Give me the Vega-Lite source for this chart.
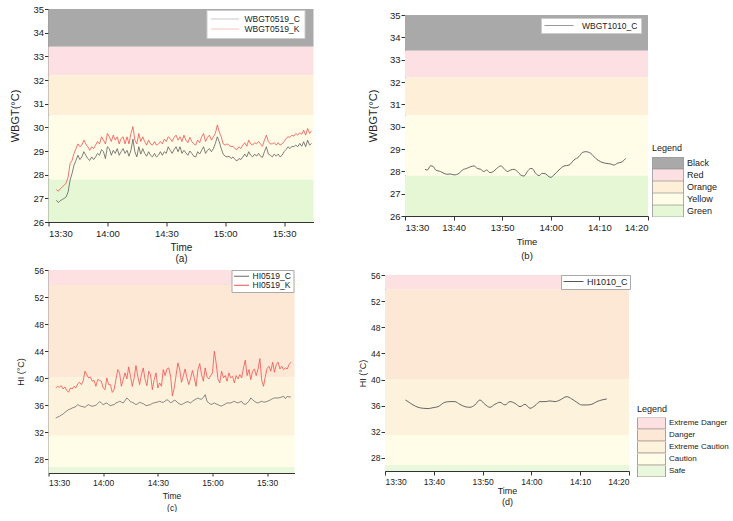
{
"padding": {"left": 9.5, "top": 4, "right": 0, "bottom": 0},
"config": {
  "font": "Liberation Sans",
  "view": {"stroke": null},
  "axis": {"grid": false, "domainColor": "#333", "tickColor": "#333", "labelColor": "#222", "titleColor": "#222", "titleFontWeight": "normal", "labelOverlap": false},
  "legend": {"titleFontWeight": "normal", "labelColor": "#222", "titleColor": "#222"}
},
"resolve": {"scale": {"fill": "independent", "stroke": "independent"}, "legend": {"fill": "independent", "stroke": "independent"}},
"spacing": 2,
"vconcat": [
 {
  "spacing": 53.5,
  "resolve": {"scale": {"fill": "independent", "stroke": "independent"}, "legend": {"fill": "independent", "stroke": "independent"}},
  "hconcat": [
   {
    "width": 265, "height": 213,
    "data": {"values": [
{"t":814,"C":26.92,"K":27.37},{"t":815,"C":26.82,"K":27.30},{"t":816,"C":26.90,"K":27.40},{"t":817,"C":26.95,"K":27.48},
{"t":818,"C":27.00,"K":27.55},{"t":819,"C":27.06,"K":27.65},{"t":820,"C":27.27,"K":27.90},{"t":821,"C":27.77,"K":28.47},
{"t":822,"C":28.05,"K":28.60},{"t":823,"C":28.40,"K":28.90},{"t":824,"C":28.60,"K":29.10},{"t":825,"C":28.82,"K":29.30},
{"t":826,"C":28.64,"K":29.18},{"t":827,"C":28.75,"K":29.25},{"t":828,"C":28.97,"K":29.46},{"t":829,"C":28.82,"K":29.30},
{"t":830,"C":28.68,"K":29.18},{"t":831,"C":28.60,"K":29.03},{"t":832,"C":28.75,"K":29.18},{"t":833,"C":28.64,"K":29.10},
{"t":834,"C":28.75,"K":29.25},{"t":835,"C":28.90,"K":29.40},{"t":836,"C":28.82,"K":29.30},{"t":837,"C":29.06,"K":29.60},
{"t":838,"C":28.97,"K":29.46},{"t":839,"C":28.68,"K":29.30},{"t":840,"C":29.18,"K":29.74},{"t":841,"C":29.10,"K":29.60},
{"t":842,"C":28.82,"K":29.40},{"t":843,"C":29.03,"K":29.67},{"t":844,"C":28.90,"K":29.46},{"t":845,"C":29.10,"K":29.60},
{"t":846,"C":28.82,"K":29.30},{"t":847,"C":28.97,"K":29.53},{"t":848,"C":29.10,"K":29.60},{"t":849,"C":28.90,"K":29.30},
{"t":850,"C":29.03,"K":29.60},{"t":851,"C":28.78,"K":29.30},{"t":852,"C":29.03,"K":29.74},{"t":853,"C":29.50,"K":30.03},
{"t":854,"C":28.97,"K":29.46},{"t":855,"C":28.75,"K":29.30},{"t":856,"C":29.18,"K":29.74},{"t":857,"C":28.87,"K":29.40},
{"t":858,"C":29.10,"K":29.60},{"t":859,"C":28.90,"K":29.40},{"t":860,"C":28.78,"K":29.25},{"t":861,"C":28.97,"K":29.46},
{"t":862,"C":28.82,"K":29.30},{"t":863,"C":28.75,"K":29.25},{"t":864,"C":28.90,"K":29.40},{"t":865,"C":28.75,"K":29.25},
{"t":866,"C":28.82,"K":29.30},{"t":867,"C":28.97,"K":29.40},{"t":868,"C":28.82,"K":29.30},{"t":869,"C":28.97,"K":29.50},
{"t":870,"C":28.90,"K":29.40},{"t":871,"C":29.18,"K":29.60},{"t":872,"C":29.03,"K":29.53},{"t":873,"C":28.90,"K":29.40},
{"t":874,"C":29.06,"K":29.58},{"t":875,"C":29.18,"K":29.67},{"t":876,"C":28.97,"K":29.46},{"t":877,"C":29.18,"K":29.60},
{"t":878,"C":28.90,"K":29.40},{"t":879,"C":29.03,"K":29.67},{"t":880,"C":28.92,"K":29.46},{"t":881,"C":28.82,"K":29.35},
{"t":882,"C":29.00,"K":29.58},{"t":883,"C":28.90,"K":29.40},{"t":884,"C":28.78,"K":29.30},{"t":885,"C":28.75,"K":29.25},
{"t":886,"C":28.97,"K":29.46},{"t":887,"C":28.87,"K":29.35},{"t":888,"C":29.03,"K":29.60},{"t":889,"C":29.18,"K":29.74},
{"t":890,"C":28.90,"K":29.40},{"t":891,"C":29.03,"K":29.58},{"t":892,"C":29.10,"K":29.67},{"t":893,"C":28.97,"K":29.46},
{"t":894,"C":29.10,"K":29.60},{"t":895,"C":29.32,"K":29.74},{"t":896,"C":29.60,"K":30.10},{"t":897,"C":29.39,"K":29.80},
{"t":898,"C":29.10,"K":29.60},{"t":899,"C":28.87,"K":29.30},{"t":900,"C":28.78,"K":29.25},{"t":901,"C":28.75,"K":29.30},
{"t":902,"C":28.78,"K":29.25},{"t":903,"C":28.68,"K":29.18},{"t":904,"C":28.75,"K":29.20},{"t":905,"C":28.64,"K":29.10},
{"t":906,"C":28.58,"K":29.06},{"t":907,"C":28.68,"K":29.18},{"t":908,"C":28.64,"K":29.10},{"t":909,"C":28.75,"K":29.25},
{"t":910,"C":28.87,"K":29.35},{"t":911,"C":28.75,"K":29.20},{"t":912,"C":28.97,"K":29.46},{"t":913,"C":28.82,"K":29.30},
{"t":914,"C":28.75,"K":29.25},{"t":915,"C":28.87,"K":29.35},{"t":916,"C":28.78,"K":29.30},{"t":917,"C":28.90,"K":29.40},
{"t":918,"C":28.78,"K":29.30},{"t":919,"C":28.73,"K":29.20},{"t":920,"C":28.97,"K":29.46},{"t":921,"C":29.18,"K":29.67},
{"t":922,"C":28.87,"K":29.40},{"t":923,"C":28.82,"K":29.30},{"t":924,"C":28.75,"K":29.30},{"t":925,"C":28.87,"K":29.35},
{"t":926,"C":28.78,"K":29.25},{"t":927,"C":28.87,"K":29.35},{"t":928,"C":28.75,"K":29.25},{"t":929,"C":28.82,"K":29.30},
{"t":930,"C":28.97,"K":29.40},{"t":931,"C":29.06,"K":29.53},{"t":932,"C":29.18,"K":29.60},{"t":933,"C":29.10,"K":29.58},
{"t":934,"C":29.20,"K":29.67},{"t":935,"C":29.18,"K":29.63},{"t":936,"C":29.25,"K":29.74},{"t":937,"C":29.18,"K":29.67},
{"t":938,"C":29.32,"K":29.77},{"t":939,"C":29.20,"K":29.71},{"t":940,"C":29.39,"K":29.88},{"t":941,"C":29.18,"K":29.67},
{"t":942,"C":29.46,"K":29.95},{"t":943,"C":29.25,"K":29.74},{"t":944,"C":29.32,"K":29.85}
    ]},
    "layer": [
     {"data": {"values": [
        {"zone": "Black", "lo": 33.4, "hi": 35}, {"zone": "Red", "lo": 32.2, "hi": 33.4},
        {"zone": "Orange", "lo": 30.5, "hi": 32.2}, {"zone": "Yellow", "lo": 27.8, "hi": 30.5}, {"zone": "Green", "lo": 26, "hi": 27.8}]},
      "mark": "rect",
      "encoding": {
       "x": {"datum": 810, "type": "quantitative"},
       "x2": {"datum": 945},
       "y": {"field": "lo", "type": "quantitative", "scale": {"domain": [26, 35], "nice": false, "zero": false},
             "axis": {"title": "WBGT(°C)", "values": [26,27,28,29,30,31,32,33,34,35], "labelOverlap": false, "labelFontSize": 9.5, "titleFontSize": 11, "tickSize": 4, "labelPadding": 1, "titlePadding": 12}},
       "y2": {"field": "hi"},
       "fill": {"field": "zone", "type": "nominal", "scale": {"domain": ["Black","Red","Orange","Yellow","Green"], "range": ["#a9a9a9","#fde0e3","#fdefd8","#fffde8","#e6f7d6"]}, "legend": null}
      }},
     {"mark": {"type": "line", "strokeWidth": 0.8},
      "encoding": {
       "x": {"field": "t", "type": "quantitative", "scale": {"domain": [810, 945], "nice": false, "zero": false},
             "axis": {"title": ["Time", "(a)"], "values": [810, 840, 870, 900, 930], "labelExpr": "floor(datum.value/60) + ':' + (datum.value % 60 < 10 ? '0' : '') + (datum.value % 60)", "labelFontSize": 9.5, "titleFontSize": 10, "tickSize": 4, "labelPadding": 2, "titlePadding": 5, "titleLineHeight": 11}},
       "y": {"field": "C", "type": "quantitative",
             "axis": {"title": "WBGT(°C)", "values": [26,27,28,29,30,31,32,33,34,35], "labelOverlap": false, "labelFontSize": 9.5, "titleFontSize": 11, "tickSize": 4, "labelPadding": 1, "titlePadding": 12}},
       "stroke": {"datum": "WBGT0519_C", "type": "nominal", "scale": {"domain": ["WBGT0519_C","WBGT0519_K"], "range": ["#5e5e5e","#f05050"]},
                  "legend": {"orient": "none", "legendX": 158, "legendY": 1, "title": null, "fillColor": "white", "strokeColor": "#cccccc", "padding": 4, "symbolType": "stroke", "symbolSize": 784, "symbolStrokeWidth": 1, "symbolOpacity": 0.35, "clipHeight": 10, "rowPadding": 0, "labelFontSize": 8.5, "labelOffset": 5}}
      }},
     {"mark": {"type": "line", "strokeWidth": 0.8},
      "encoding": {
       "x": {"field": "t", "type": "quantitative"},
       "y": {"field": "K", "type": "quantitative",
             "axis": {"title": "WBGT(°C)", "values": [26,27,28,29,30,31,32,33,34,35], "labelOverlap": false, "labelFontSize": 9.5, "titleFontSize": 11, "tickSize": 4, "labelPadding": 1, "titlePadding": 12}},
       "stroke": {"datum": "WBGT0519_K", "type": "nominal"}
      }}
    ]
   },
   {
    "spacing": 0,
    "resolve": {"scale": {"fill": "independent", "stroke": "independent"}, "legend": {"fill": "independent", "stroke": "independent"}},
    "vconcat": [
     {"width": 1, "height": 1, "data": {"values": [{"a": 1}]}, "mark": {"type": "rect", "opacity": 0}},
     {
      "width": 243, "height": 201,
      "data": {"values": [
{"t":814.12,"C":28.09},{"t":814.6,"C":28.06},{"t":815.28,"C":28.25},{"t":815.83,"C":28.21},{"t":816.32,"C":28.06},
{"t":817.33,"C":27.99},{"t":818.02,"C":27.91},{"t":818.57,"C":27.87},{"t":819.4,"C":27.88},{"t":820.08,"C":27.84},
{"t":821.12,"C":27.91},{"t":821.8,"C":28.06},{"t":822.68,"C":28.13},{"t":823.52,"C":28.21},{"t":824.2,"C":28.24},
{"t":824.88,"C":28.13},{"t":825.57,"C":28.09},{"t":826.25,"C":27.99},{"t":826.8,"C":28.06},{"t":827.48,"C":27.94},
{"t":828.18,"C":27.99},{"t":828.87,"C":28.13},{"t":829.68,"C":28.24},{"t":830.37,"C":28.13},{"t":831.05,"C":27.99},
{"t":831.75,"C":28.06},{"t":832.43,"C":28.09},{"t":833.12,"C":27.99},{"t":833.8,"C":27.84},{"t":834.48,"C":27.79},
{"t":835.17,"C":27.99},{"t":835.85,"C":28.13},{"t":836.2,"C":28.12},{"t":836.88,"C":27.91},{"t":837.57,"C":27.81},
{"t":838.25,"C":27.91},{"t":838.95,"C":27.88},{"t":839.63,"C":27.76},{"t":839.97,"C":27.73},{"t":840.65,"C":27.84},
{"t":841.68,"C":28.06},{"t":842.72,"C":28.24},{"t":843.75,"C":28.28},{"t":844.77,"C":28.51},{"t":845.8,"C":28.66},
{"t":846.48,"C":28.84},{"t":847.17,"C":28.88},{"t":848.2,"C":28.81},{"t":849.23,"C":28.58},{"t":850.27,"C":28.43},
{"t":851.28,"C":28.36},{"t":852.32,"C":28.33},{"t":853,"C":28.28},{"t":853.68,"C":28.36},{"t":854.72,"C":28.43},
{"t":855.4,"C":28.58}
      ]},
      "layer": [
       {"data": {"values": [
          {"zone": "Black", "lo": 33.4, "hi": 35}, {"zone": "Red", "lo": 32.2, "hi": 33.4},
          {"zone": "Orange", "lo": 30.5, "hi": 32.2}, {"zone": "Yellow", "lo": 27.8, "hi": 30.5}, {"zone": "Green", "lo": 26, "hi": 27.8}]},
        "mark": "rect",
        "encoding": {
         "x": {"datum": 810, "type": "quantitative"},
         "x2": {"datum": 860},
         "y": {"field": "lo", "type": "quantitative", "scale": {"domain": [26, 35], "nice": false, "zero": false},
               "axis": {"title": "WBGT(°C)", "values": [26,27,28,29,30,31,32,33,34,35], "labelOverlap": false, "labelFontSize": 9.5, "titleFontSize": 11, "tickSize": 4, "labelPadding": 1, "titlePadding": 11}},
         "y2": {"field": "hi"},
         "fill": {"field": "zone", "type": "nominal", "scale": {"domain": ["Black","Red","Orange","Yellow","Green"], "range": ["#a9a9a9","#fde0e3","#fdefd8","#fffde8","#e6f7d6"]},
                  "legend": {"orient": "none", "legendX": 247, "legendY": 129, "title": "Legend", "titleFontSize": 9, "titlePadding": 4, "symbolType": "M-1,-0.39L1,-0.39L1,0.39L-1,0.39Z", "symbolSize": 961, "symbolStrokeColor": "#8a8a8a", "symbolStrokeWidth": 0.7, "clipHeight": 12, "rowPadding": 0, "labelFontSize": 9, "labelOffset": 3, "padding": 0}}
        }},
       {"mark": {"type": "line", "strokeWidth": 0.9, "interpolate": "monotone"},
        "encoding": {
         "x": {"field": "t", "type": "quantitative", "scale": {"domain": [810, 860], "nice": false, "zero": false},
               "axis": {"title": ["Time", "(b)"], "values": [810, 820, 830, 840, 850, 860], "labelExpr": "floor(datum.value/60) + ':' + (datum.value % 60 < 10 ? '0' : '') + (datum.value % 60)", "labelFontSize": 9.5, "titleFontSize": 9.5, "tickSize": 4, "labelPadding": 2, "titlePadding": 5, "titleLineHeight": 14}},
         "y": {"field": "C", "type": "quantitative",
               "axis": {"title": "WBGT(°C)", "values": [26,27,28,29,30,31,32,33,34,35], "labelOverlap": false, "labelFontSize": 9.5, "titleFontSize": 11, "tickSize": 4, "labelPadding": 1, "titlePadding": 11}},
         "stroke": {"datum": "WBGT1010_C", "type": "nominal", "scale": {"domain": ["WBGT1010_C"], "range": ["#555555"]},
                    "legend": {"orient": "none", "legendX": 136, "legendY": 3, "title": null, "fillColor": "white", "strokeColor": "#cccccc", "padding": 3, "symbolType": "stroke", "symbolSize": 841, "symbolStrokeWidth": 1, "symbolOpacity": 0.6, "clipHeight": 9, "labelFontSize": 8.5, "labelOffset": 8}}
        }}
      ]
     }
    ]
   }
  ]
 },
 {
  "spacing": 63.5,
  "resolve": {"scale": {"fill": "independent", "stroke": "independent"}, "legend": {"fill": "independent", "stroke": "independent"}},
  "hconcat": [
   {
    "width": 246, "height": 203,
    "data": {"values": [
{"t":814,"C":34.12,"K":38.57},{"t":815,"C":34.27,"K":38.81},{"t":816,"C":34.37,"K":38.67},{"t":817,"C":34.57,"K":38.91},
{"t":818,"C":34.72,"K":38.42},{"t":819,"C":34.96,"K":38.71},{"t":820,"C":35.16,"K":38.22},{"t":821,"C":35.36,"K":37.93},
{"t":822,"C":35.46,"K":38.57},{"t":823,"C":35.60,"K":38.42},{"t":824,"C":35.70,"K":38.81},{"t":825,"C":35.80,"K":38.57},
{"t":826,"C":36.10,"K":39.16},{"t":827,"C":35.95,"K":39.41},{"t":828,"C":35.85,"K":39.06},{"t":829,"C":35.80,"K":39.56},
{"t":830,"C":35.70,"K":41.04},{"t":831,"C":35.95,"K":40.54},{"t":832,"C":36.10,"K":40.05},{"t":833,"C":35.95,"K":40.20},
{"t":834,"C":35.85,"K":39.56},{"t":835,"C":35.95,"K":39.70},{"t":836,"C":36.00,"K":38.81},{"t":837,"C":36.25,"K":39.80},
{"t":838,"C":36.54,"K":39.70},{"t":839,"C":36.35,"K":39.56},{"t":840,"C":36.10,"K":38.57},{"t":841,"C":36.25,"K":38.32},
{"t":842,"C":36.35,"K":40.05},{"t":843,"C":36.10,"K":39.06},{"t":844,"C":35.95,"K":39.06},{"t":845,"C":36.05,"K":37.90},
{"t":846,"C":36.10,"K":38.32},{"t":847,"C":36.35,"K":39.80},{"t":848,"C":36.44,"K":41.28},{"t":849,"C":36.59,"K":40.79},
{"t":850,"C":36.49,"K":38.81},{"t":851,"C":36.35,"K":39.80},{"t":852,"C":36.69,"K":40.79},{"t":853,"C":37.09,"K":39.90},
{"t":854,"C":36.84,"K":41.68},{"t":855,"C":36.54,"K":40.30},{"t":856,"C":36.44,"K":38.81},{"t":857,"C":36.30,"K":40.05},
{"t":858,"C":36.10,"K":41.88},{"t":859,"C":36.25,"K":40.30},{"t":860,"C":36.44,"K":39.06},{"t":861,"C":36.35,"K":40.54},
{"t":862,"C":36.25,"K":41.53},{"t":863,"C":36.05,"K":39.80},{"t":864,"C":35.95,"K":38.91},{"t":865,"C":36.05,"K":41.04},
{"t":866,"C":36.10,"K":40.54},{"t":867,"C":36.30,"K":38.32},{"t":868,"C":36.35,"K":39.80},{"t":869,"C":36.44,"K":40.79},
{"t":870,"C":36.49,"K":38.57},{"t":871,"C":36.59,"K":39.31},{"t":872,"C":36.49,"K":38.81},{"t":873,"C":36.44,"K":41.28},
{"t":874,"C":36.64,"K":40.40},{"t":875,"C":36.84,"K":41.38},{"t":876,"C":36.64,"K":41.53},{"t":877,"C":36.40,"K":40.30},
{"t":878,"C":36.49,"K":37.40},{"t":879,"C":36.79,"K":38.57},{"t":880,"C":36.64,"K":40.40},{"t":881,"C":36.35,"K":42.27},
{"t":882,"C":36.20,"K":41.28},{"t":883,"C":36.10,"K":39.41},{"t":884,"C":36.25,"K":40.40},{"t":885,"C":36.40,"K":41.38},
{"t":886,"C":36.54,"K":40.05},{"t":887,"C":36.49,"K":39.06},{"t":888,"C":36.35,"K":40.05},{"t":889,"C":36.59,"K":41.14},
{"t":890,"C":36.79,"K":40.05},{"t":891,"C":36.94,"K":38.81},{"t":892,"C":37.09,"K":41.28},{"t":893,"C":36.94,"K":42.17},
{"t":894,"C":36.89,"K":40.54},{"t":895,"C":37.19,"K":39.56},{"t":896,"C":37.58,"K":41.53},{"t":897,"C":36.59,"K":40.20},
{"t":898,"C":36.35,"K":39.90},{"t":899,"C":36.15,"K":40.40},{"t":900,"C":36.20,"K":40.79},{"t":901,"C":36.35,"K":44.00},
{"t":902,"C":36.20,"K":42.27},{"t":903,"C":36.10,"K":39.90},{"t":904,"C":35.95,"K":39.31},{"t":905,"C":35.90,"K":41.04},
{"t":906,"C":36.05,"K":40.05},{"t":907,"C":36.20,"K":40.40},{"t":908,"C":36.35,"K":39.56},{"t":909,"C":36.35,"K":40.79},
{"t":910,"C":36.35,"K":40.05},{"t":911,"C":36.49,"K":40.30},{"t":912,"C":36.59,"K":39.31},{"t":913,"C":36.44,"K":40.40},
{"t":914,"C":36.35,"K":39.90},{"t":915,"C":36.49,"K":40.54},{"t":916,"C":36.59,"K":40.05},{"t":917,"C":36.20,"K":41.53},
{"t":918,"C":36.15,"K":42.67},{"t":919,"C":36.35,"K":40.40},{"t":920,"C":36.59,"K":41.28},{"t":921,"C":37.09,"K":39.80},
{"t":922,"C":36.84,"K":41.04},{"t":923,"C":36.59,"K":41.38},{"t":924,"C":36.44,"K":40.40},{"t":925,"C":36.35,"K":41.38},
{"t":926,"C":36.49,"K":42.90},{"t":927,"C":36.59,"K":39.70},{"t":928,"C":36.49,"K":38.81},{"t":929,"C":36.49,"K":40.30},
{"t":930,"C":36.59,"K":41.48},{"t":931,"C":36.69,"K":41.78},{"t":932,"C":36.84,"K":41.04},{"t":933,"C":36.99,"K":42.37},
{"t":934,"C":37.09,"K":40.89},{"t":935,"C":37.09,"K":42.02},{"t":936,"C":37.09,"K":42.37},{"t":937,"C":37.14,"K":41.38},
{"t":938,"C":37.24,"K":41.78},{"t":939,"C":37.33,"K":41.28},{"t":940,"C":36.99,"K":41.53},{"t":941,"C":37.33,"K":41.38},
{"t":942,"C":37.24,"K":42.02},{"t":943,"C":37.24,"K":42.37}
    ]},
    "layer": [
     {"data": {"values": [
        {"zone": "Extreme Danger", "lo": 53.8, "hi": 56}, {"zone": "Danger", "lo": 40.1, "hi": 53.8},
        {"zone": "Extreme Caution", "lo": 31.5, "hi": 40.1}, {"zone": "Caution", "lo": 26.9, "hi": 31.5}, {"zone": "Safe", "lo": 26, "hi": 26.9}]},
      "mark": "rect",
      "encoding": {
       "x": {"datum": 810, "type": "quantitative"},
       "x2": {"datum": 945},
       "y": {"field": "lo", "type": "quantitative", "scale": {"domain": [26, 56], "nice": false, "zero": false},
             "axis": {"title": "HI (°C)", "values": [28,32,36,40,44,48,52,56], "labelOverlap": false, "labelFontSize": 8.5, "titleFontSize": 9, "tickSize": 4, "labelPadding": 1, "titlePadding": 9}},
       "y2": {"field": "hi"},
       "fill": {"field": "zone", "type": "nominal", "scale": {"domain": ["Extreme Danger","Danger","Extreme Caution","Caution","Safe"], "range": ["#fde0e1","#fde8d6","#fdf2dc","#fffde8","#e9f8dc"]}, "legend": null}
      }},
     {"mark": {"type": "line", "strokeWidth": 0.8},
      "encoding": {
       "x": {"field": "t", "type": "quantitative", "scale": {"domain": [810, 945], "nice": false, "zero": false},
             "axis": {"title": ["Time", "(c)"], "values": [810, 840, 870, 900, 930], "labelExpr": "floor(datum.value/60) + ':' + (datum.value % 60 < 10 ? '0' : '') + (datum.value % 60)", "labelFontSize": 8.5, "titleFontSize": 8.5, "tickSize": 3, "labelPadding": 2, "titlePadding": 5, "titleLineHeight": 12}},
       "y": {"field": "C", "type": "quantitative",
             "axis": {"title": "HI (°C)", "values": [28,32,36,40,44,48,52,56], "labelOverlap": false, "labelFontSize": 8.5, "titleFontSize": 9, "tickSize": 4, "labelPadding": 1, "titlePadding": 9}},
       "stroke": {"datum": "HI0519_C", "type": "nominal", "scale": {"domain": ["HI0519_C","HI0519_K"], "range": ["#6a6a6a","#f05050"]},
                  "legend": {"orient": "none", "legendX": 183, "legendY": 0, "title": null, "fillColor": "white", "strokeColor": "#aaaaaa", "padding": 2, "symbolType": "stroke", "symbolSize": 225, "symbolStrokeWidth": 1, "clipHeight": 8.5, "rowPadding": 0, "labelFontSize": 8.5, "labelOffset": 3}}
      }},
     {"mark": {"type": "line", "strokeWidth": 0.8},
      "encoding": {
       "x": {"field": "t", "type": "quantitative"},
       "y": {"field": "K", "type": "quantitative",
             "axis": {"title": "HI (°C)", "values": [28,32,36,40,44,48,52,56], "labelOverlap": false, "labelFontSize": 8.5, "titleFontSize": 9, "tickSize": 4, "labelPadding": 1, "titlePadding": 9}},
       "stroke": {"datum": "HI0519_K", "type": "nominal"}
      }}
    ]
   },
   {
    "spacing": 0,
    "resolve": {"scale": {"fill": "independent", "stroke": "independent"}, "legend": {"fill": "independent", "stroke": "independent"}},
    "vconcat": [
     {"width": 1, "height": 1, "data": {"values": [{"a": 1}]}, "mark": {"type": "rect", "opacity": 0}},
     {
      "width": 244, "height": 196,
      "data": {"values": [
{"t":814.18,"C":36.87},{"t":814.73,"C":36.62},{"t":815.75,"C":36.11},{"t":816.78,"C":35.75},{"t":817.82,"C":35.60},
{"t":818.83,"C":35.55},{"t":819.87,"C":35.70},{"t":820.88,"C":35.85},{"t":822.27,"C":36.52},{"t":823.28,"C":36.62},
{"t":824.32,"C":36.62},{"t":825.33,"C":36.21},{"t":826.37,"C":35.85},{"t":827.38,"C":35.75},{"t":828.42,"C":36.11},
{"t":829.45,"C":36.87},{"t":830.47,"C":36.21},{"t":831.5,"C":35.75},{"t":832.53,"C":36.21},{"t":833.55,"C":36.52},
{"t":834.58,"C":36.11},{"t":835.6,"C":36.62},{"t":836.63,"C":36.36},{"t":837.67,"C":35.85},{"t":838.68,"C":36.21},
{"t":839.72,"C":35.60},{"t":840.73,"C":36.00},{"t":841.77,"C":36.62},{"t":842.8,"C":36.62},{"t":843.82,"C":36.72},
{"t":844.85,"C":36.62},{"t":845.87,"C":36.87},{"t":847.23,"C":37.38},{"t":848.27,"C":37.03},{"t":849.3,"C":36.52},
{"t":850.32,"C":36.11},{"t":851.35,"C":36.11},{"t":852.38,"C":36.21},{"t":853.4,"C":36.62},{"t":854.43,"C":36.87},
{"t":855.45,"C":37.03}
      ]},
      "layer": [
       {"data": {"values": [
          {"zone": "Extreme Danger", "lo": 53.8, "hi": 56}, {"zone": "Danger", "lo": 40.1, "hi": 53.8},
          {"zone": "Extreme Caution", "lo": 31.5, "hi": 40.1}, {"zone": "Caution", "lo": 26.9, "hi": 31.5}, {"zone": "Safe", "lo": 26, "hi": 26.9}]},
        "mark": "rect",
        "encoding": {
         "x": {"datum": 810, "type": "quantitative"},
         "x2": {"datum": 860},
         "y": {"field": "lo", "type": "quantitative", "scale": {"domain": [26, 56], "nice": false, "zero": false},
               "axis": {"title": "HI (°C)", "values": [28,32,36,40,44,48,52,56], "labelOverlap": false, "labelFontSize": 8.5, "titleFontSize": 9, "tickSize": 4, "labelPadding": 1, "titlePadding": 3}},
         "y2": {"field": "hi"},
         "fill": {"field": "zone", "type": "nominal", "scale": {"domain": ["Extreme Danger","Danger","Extreme Caution","Caution","Safe"], "range": ["#fde0e1","#fde8d6","#fdf2dc","#fffde8","#e9f8dc"]},
                  "legend": {"orient": "none", "legendX": 252, "legendY": 129.5, "title": "Legend", "titleFontSize": 9, "titlePadding": 4, "symbolType": "M-1,-0.41L1,-0.41L1,0.41L-1,0.41Z", "symbolSize": 784, "symbolStrokeColor": "#8a7a6a", "symbolStrokeWidth": 0.7, "clipHeight": 11.4, "rowPadding": 0, "labelFontSize": 8, "labelOffset": 3, "padding": 0, "labelLimit": 200}}
        }},
       {"mark": {"type": "line", "strokeWidth": 0.9, "interpolate": "monotone"},
        "encoding": {
         "x": {"field": "t", "type": "quantitative", "scale": {"domain": [810, 860], "nice": false, "zero": false},
               "axis": {"title": ["Time", "(d)"], "values": [810, 820, 830, 840, 850, 860], "labelExpr": "floor(datum.value/60) + ':' + (datum.value % 60 < 10 ? '0' : '') + (datum.value % 60)", "labelFontSize": 8.5, "titleFontSize": 9, "tickSize": 4, "labelPadding": 2, "titlePadding": 1, "titleLineHeight": 11}},
         "y": {"field": "C", "type": "quantitative",
               "axis": {"title": "HI (°C)", "values": [28,32,36,40,44,48,52,56], "labelOverlap": false, "labelFontSize": 8.5, "titleFontSize": 9, "tickSize": 4, "labelPadding": 1, "titlePadding": 3}},
         "stroke": {"datum": "HI1010_C", "type": "nominal", "scale": {"domain": ["HI1010_C"], "range": ["#555555"]},
                    "legend": {"orient": "none", "legendX": 176, "legendY": 0, "title": null, "fillColor": "white", "strokeColor": "#aaaaaa", "padding": 2, "symbolType": "stroke", "symbolSize": 400, "symbolStrokeWidth": 1, "clipHeight": 9, "labelFontSize": 9, "labelOffset": 3}}
        }}
      ]
     }
    ]
   }
  ]
 }
]
}
